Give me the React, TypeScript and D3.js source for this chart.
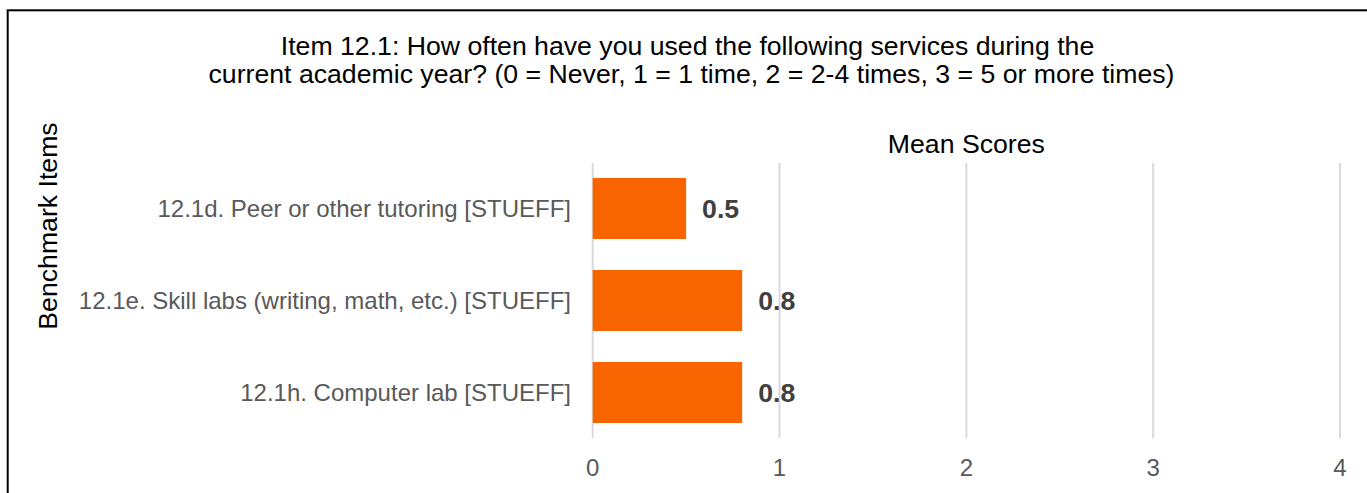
import React from "react";
import * as d3 from "d3";

const titleLines = [
  "Item 12.1: How often have you used the following services during the",
  "current academic year? (0 = Never, 1 = 1 time, 2 = 2-4 times, 3 = 5 or more times)",
];
const categories = [
  "12.1d. Peer or other tutoring [STUEFF]",
  "12.1e. Skill labs (writing, math, etc.) [STUEFF]",
  "12.1h. Computer lab [STUEFF]",
];
const values = [0.5, 0.8, 0.8];
const tickValues = [0, 1, 2, 3, 4];
const xTitle = "Mean Scores";
const yTitle = "Benchmark Items";

const W = 1367;
const H = 493;
const FONT = "Arial, 'Liberation Sans', Helvetica, sans-serif";

export default function App() {
  const x = d3.scaleLinear().domain([0, 4]).range([592.7, 1340]);
  const y = d3
    .scaleBand<string>()
    .domain(categories)
    .range([163, 438])
    .paddingInner(0.337)
    .paddingOuter(0.163);

  const titleX = [687.5, 691.5];

  return (
    <svg
      width={W}
      height={H}
      style={{ position: "absolute", left: 0, top: 0, background: "#fff" }}
      fontFamily={FONT}
    >
      <rect x={7.7} y={10.3} width={1400} height={600} fill="none" stroke="#000" strokeWidth={2} />
      {titleLines.map((t, i) => (
        <text key={i} x={titleX[i]} y={55 + i * 28.3} textAnchor="middle" fontSize={26.67} fill="#000">
          {t}
        </text>
      ))}
      <text x={(x(0) + x(4)) / 2} y={153} textAnchor="middle" fontSize={26.67} fill="#000">
        {xTitle}
      </text>
      <text
        transform={`translate(57,226) rotate(-90)`}
        textAnchor="middle"
        fontSize={26.67}
        fill="#000"
      >
        {yTitle}
      </text>
      {tickValues.map((t) => (
        <g key={t}>
          <line x1={x(t)} x2={x(t)} y1={163} y2={438} stroke="#d9d9d9" strokeWidth={2} />
          <text x={x(t)} y={476} textAnchor="middle" fontSize={24} fill="#595959">
            {t}
          </text>
        </g>
      ))}
      {categories.map((c, i) => {
        const yy = y(c)!;
        const bw = y.bandwidth();
        return (
          <g key={c}>
            <rect x={x(0)} y={yy} width={x(values[i]) - x(0)} height={bw} fill="#f86400" />
            <text
              x={571}
              y={yy + bw / 2}
              dy="0.35em"
              textAnchor="end"
              fontSize={24}
              fill="#595959"
            >
              {c}
            </text>
            <text
              x={x(values[i]) + 16}
              y={yy + bw / 2}
              dy="0.35em"
              fontSize={26.67}
              fontWeight="bold"
              fill="#404040"
            >
              {values[i].toFixed(1)}
            </text>
          </g>
        );
      })}
    </svg>
  );
}
